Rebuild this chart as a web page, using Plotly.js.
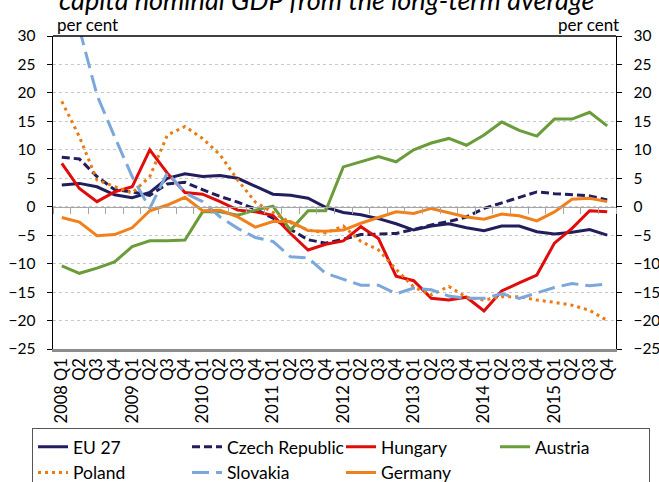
<!DOCTYPE html>
<html>
<head>
<meta charset="utf-8">
<script src="https://cdn.plot.ly/plotly-3.0.1.min.js"></script>
<style>
html,body{margin:0;padding:0;background:#fff;}
#chart{width:659px;height:482px;}
</style>
</head>
<body>
<div id="chart"></div>
<script>
// Quarters 2008 Q1 .. 2015 Q4
const quarters = ["2008 Q1","2008 Q2","2008 Q3","2008 Q4","2009 Q1","2009 Q2","2009 Q3","2009 Q4",
  "2010 Q1","2010 Q2","2010 Q3","2010 Q4","2011 Q1","2011 Q2","2011 Q3","2011 Q4",
  "2012 Q1","2012 Q2","2012 Q3","2012 Q4","2013 Q1","2013 Q2","2013 Q3","2013 Q4",
  "2014 Q1","2014 Q2","2014 Q3","2014 Q4","2015 Q1","2015 Q2","2015 Q3","2015 Q4"];
const tickLabels = ["2008 Q1","Q2","Q3","Q4","2009 Q1","Q2","Q3","Q4",
  "2010 Q1","Q2","Q3","Q4","2011 Q1","Q2","Q3","Q4",
  "2012 Q1","Q2","Q3","Q4","2013 Q1","Q2","Q3","Q4",
  "2014 Q1","Q2","Q3","Q4","2015 Q1","Q2","Q3","Q4"];

const eu27 = [3.8, 4.1, 3.5, 2.1, 1.6, 2.5, 5.0, 5.8, 5.3, 5.5, 5.0, 3.6, 2.2, 2.0, 1.5, -0.1,
  -1.0, -1.4, -2.1, -3.0, -4.1, -3.4, -3.0, -3.7, -4.2, -3.4, -3.4, -4.4, -4.8, -4.5, -4.0, -5.0];
const czech = [8.7, 8.4, 5.3, 3.0, 2.6, 2.0, 4.0, 4.3, 3.0, 1.8, 0.8, -0.4, -2.0, -4.0, -5.8, -6.4,
  -5.7, -4.9, -4.8, -4.7, -4.0, -3.2, -2.6, -1.8, -0.3, 0.7, 1.6, 2.6, 2.3, 2.1, 1.9, 1.2];
const hungary = [7.6, 3.2, 0.9, 2.6, 3.5, 10.0, 5.9, 2.5, 2.2, 0.9, -0.6, -0.9, -1.5, -4.7, -7.6, -6.6,
  -6.0, -3.5, -5.6, -12.2, -13.0, -16.1, -16.4, -15.9, -18.3, -14.8, -13.4, -12.0, -6.4, -3.8, -0.7, -0.9];
const austria = [-10.4, -11.7, -10.8, -9.7, -7.0, -6.0, -6.0, -5.85, -0.9, -0.9, -1.5, -0.6, 0.1, -4.1, -0.7, -0.7,
  7.0, 7.9, 8.8, 7.9, 10.0, 11.2, 12.0, 10.8, 12.6, 14.9, 13.4, 12.4, 15.4, 15.4, 16.6, 14.2];
const poland = [18.5, 12.3, 4.7, 3.5, 2.4, 5.3, 12.6, 14.1, 12.0, 9.1, 4.7, 0.8, -1.0, -2.8, -4.1, -4.6,
  -3.4, -6.1, -7.6, -11.0, -14.1, -15.5, -14.0, -15.9, -16.4, -15.8, -15.8, -16.4, -16.8, -17.3, -18.2, -20.0];
const slovakia = [null, 31.3, 19.6, 12.3, 5.3, -0.3, 6.0, 2.4, 0.9, -1.8, -3.8, -5.4, -6.1, -8.8, -9.0, -11.7,
  -12.8, -13.8, -13.8, -15.3, -14.3, -14.6, -15.7, -16.1, -16.1, -15.3, -16.1, -15.2, -14.2, -13.5, -13.9, -13.6];
const germany = [-1.9, -2.7, -5.1, -4.9, -3.7, -0.7, 0.3, 1.65, -0.7, -0.6, -1.8, -3.6, -2.6, -2.6, -4.2, -4.3,
  -4.1, -2.9, -1.9, -0.9, -1.2, -0.3, -1.05, -1.8, -2.2, -1.3, -1.6, -2.5, -0.9, 1.3, 1.5, 0.9];

const seriesNames = ["EU 27","Czech Republic","Hungary","Austria","Poland","Slovakia","Germany"];
const titleText = "capita nominal GDP from the long-term average";
const unitText = "per cent";

const FONT = "Lato, 'Open Sans', sans-serif";
const W = 3;
function tr(name, y, color, dash){
  return {type:"scatter", mode:"lines", name:name, x:quarters, y:y,
    line:{color:color, width:W, dash:dash}, connectgaps:false, hoverinfo:"skip"};
}
const data = [
  tr(seriesNames[0], eu27, "#221e5e", "solid"),
  tr(seriesNames[1], czech, "#221e5e", "8px,4px"),
  tr(seriesNames[2], hungary, "#e00b0b", "solid"),
  tr(seriesNames[3], austria, "#6a9c3a", "solid"),
  tr(seriesNames[4], poland, "#ec7a12", "3px,4px"),
  tr(seriesNames[5], slovakia, "#7ba7da", "17px,7px"),
  tr(seriesNames[6], germany, "#f0801c", "solid"),
  // helper traces so the secondary axes are drawn
  {type:"scatter", mode:"lines", x:quarters, y:eu27, xaxis:"x2", yaxis:"y", opacity:0,
    line:{width:0}, showlegend:false, hoverinfo:"skip"},
  {type:"scatter", mode:"lines", x:quarters, y:eu27, xaxis:"x", yaxis:"y2", opacity:0,
    line:{width:0}, showlegend:false, hoverinfo:"skip"}
];

const zeroPos = 25/55;
const layout = {
  width:659, height:482,
  margin:{l:53, r:43, t:36, b:133, autoexpand:false},
  paper_bgcolor:"#fff", plot_bgcolor:"#fff",
  font:{family:FONT, size:15, color:"#000"},
  showlegend:true,
  xaxis:{type:"category", categoryorder:"array", categoryarray:quarters,
    range:[-0.5, 31.5], tickmode:"array", tickvals:quarters, ticktext:tickLabels,
    tickangle:-90, ticks:"", showgrid:false, zeroline:false,
    showline:true, linecolor:"#8c8c8c", linewidth:2.5, tickfont:{size:16.5}},
  xaxis2:{type:"category", overlaying:"x", anchor:"free", position:zeroPos,
    categoryorder:"array", categoryarray:quarters, range:[-0.5, 31.5],
    tickmode:"linear", tick0:0, dtick:1, tickson:"boundaries",
    ticks:"outside", ticklen:6, tickcolor:"#a6a6a6", tickwidth:1,
    showticklabels:false, showgrid:false, zeroline:false,
    showline:true, linecolor:"#a6a6a6", linewidth:1.5},
  yaxis:{range:[-25,30], dtick:5, tick0:0, ticks:"outside", ticklen:5, tickcolor:"#000",
    showline:true, linecolor:"#000", linewidth:1.3, zeroline:false,
    showgrid:true, gridcolor:"#c8c8c8", griddash:"dot", gridwidth:1,
    tickfont:{size:15.5}, ticklabelstandoff:8},
  yaxis2:{range:[-25,30], dtick:5, tick0:0, overlaying:"y", side:"right",
    ticks:"outside", ticklen:5, tickcolor:"#000", showline:true, linecolor:"#000", linewidth:1.3,
    zeroline:false, showgrid:false, tickfont:{size:15.5}, ticklabelstandoff:8},
  legend:{orientation:"h", x:-0.0373, xanchor:"left", y:-0.252, yanchor:"top",
    bordercolor:"#555", borderwidth:1, bgcolor:"#fff",
    entrywidth:109, entrywidthmode:"pixels", font:{size:17.5, family:FONT},
    traceorder:"normal"},
  shapes:[
    {type:"line", xref:"paper", yref:"paper", x0:0, x1:1, y0:1, y1:1,
      line:{color:"#000", width:1.3}}
  ],
  annotations:[
    {text:titleText, xref:"paper", yref:"paper", x:0.485, y:1.057, xanchor:"center", yanchor:"bottom",
      showarrow:false, font:{size:27, style:"italic", family:FONT}},
    {text:unitText, xref:"paper", yref:"paper", x:0.004, y:1.037, xanchor:"left", yanchor:"middle",
      showarrow:false, font:{size:17}},
    {text:unitText, xref:"paper", yref:"paper", x:1.008, y:1.037, xanchor:"right", yanchor:"middle",
      showarrow:false, font:{size:17}}
  ]
};

Plotly.newPlot("chart", data, layout, {staticPlot:true, displayModeBar:false});
</script>
</body>
</html>
